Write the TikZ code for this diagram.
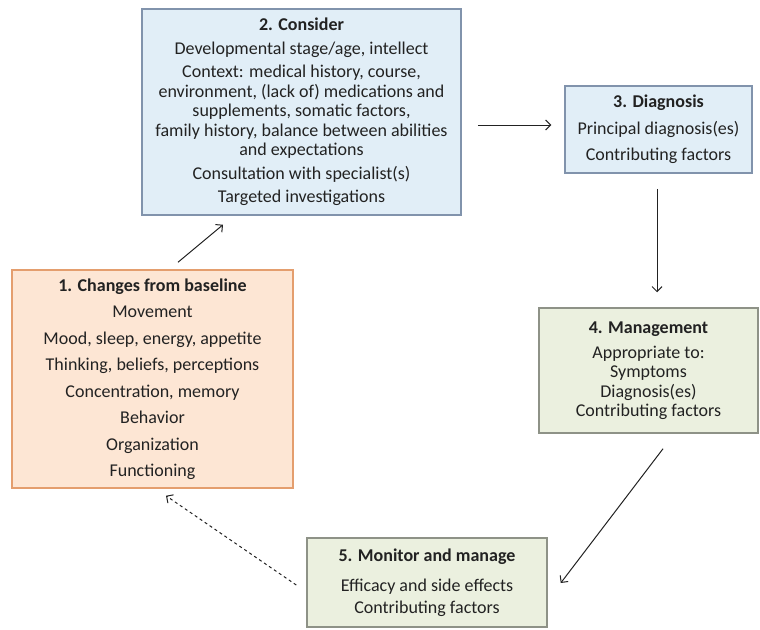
\documentclass[tikz,border=0pt]{standalone}
\usepackage{fontspec}
\setmainfont{Carlito}
\usetikzlibrary{arrows.meta, calc, positioning}
\definecolor{bluefill}{HTML}{E1EEF7}
\definecolor{blueline}{HTML}{8193AC}
\definecolor{greenfill}{HTML}{EBF0DF}
\definecolor{greenline}{HTML}{8E9287}
\definecolor{orangefill}{HTML}{FDE6D4}
\definecolor{orangeline}{HTML}{E49E6E}
\definecolor{txt}{HTML}{222222}

\begin{document}
\begin{tikzpicture}[x=1pt,y=-1pt,
    box/.style={draw, line width=1.5pt, align=center, text=txt, inner sep=0pt,
      font=\fontsize{18}{19.5}\selectfont},
    bluebox/.style={box, draw=blueline, fill=bluefill},
    greenbox/.style={box, draw=greenline, fill=greenfill},
    orangebox/.style={box, draw=orangeline, fill=orangefill},
    arr/.style={-{Straight Barb[length=5pt,width=10pt]}, line width=1pt, draw=txt}]
  \useasboundingbox (0,0) rectangle (760,629);
  \node[orangebox, minimum width=281pt, minimum height=218pt] (base) at (152.5,379)
    {\textbf{1. Changes from baseline}\\[7pt] Movement\\[7pt] Mood, sleep, energy, appetite\\[7pt]
     Thinking, beliefs, perceptions\\[7pt] Concentration, memory\\[7pt] Behavior\\[7pt]
     Organization\\[7pt] Functioning};
  \node[bluebox, minimum width=319pt, minimum height=206pt] (consider) at (301.5,112)
    {\textbf{2. Consider}\\[4pt] Developmental stage/age, intellect\\[4pt]
     Context: medical history, course,\\ environment, (lack of) medications and\\
     supplements, somatic factors,\\ family history, balance between abilities\\
     and expectations\\[4pt] Consultation with specialist(s)\\[4pt] Targeted investigations};
  \node[bluebox, minimum width=187pt, minimum height=87pt] (diag) at (658.5,129.5)
    {\textbf{3. Diagnosis}\\[7pt] Principal diagnosis(es)\\[7pt] Contributing factors};
  \node[greenbox, minimum width=219pt, minimum height=125pt] (manage) at (648.5,370.5)
    {\textbf{4. Management}\\[5.5pt] Appropriate to:\\ Symptoms\\ Diagnosis(es)\\ Contributing factors};
  \node[greenbox, minimum width=240pt, minimum height=89pt] (monitor) at (427,582.5)
    {\textbf{5. Monitor and manage}\\[10pt] Efficacy and side effects\\[2.5pt] Contributing factors};
  \draw[arr] ($(base.north)+(25.5,-7)$) -- ($(consider.south)+(-78.5,9)$);
  \draw[arr] ($(consider.east)+(16,13)$) -- ($(diag.west)+(-13,-4.5)$);
  \draw[arr] ($(diag.south)+(-1.5,15)$) -- ($(manage.north)+(8.5,-15)$);
  \draw[arr] ($(manage.south)+(14.5,15)$) -- ($(monitor.east)+(13,0.5)$);
  \draw[arr, dashed] ($(monitor.west)+(-10,2.5)$) -- ($(base.south)+(13.5,7)$);
\end{tikzpicture}
\end{document}
